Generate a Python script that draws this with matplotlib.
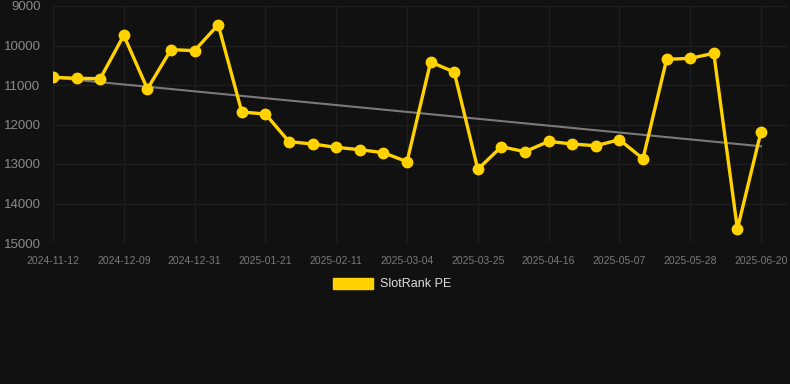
import numpy as np
import matplotlib
matplotlib.use("Agg")
import matplotlib.pyplot as plt
from matplotlib.patches import Patch

plt.rcParams['font.family'] = ['Liberation Sans', 'DejaVu Sans']

# dates of each sample (only every third one is shown as a tick label)
dates = ["2024-11-12", "2024-11-21", "2024-11-30", "2024-12-09", "2024-12-16",
         "2024-12-23", "2024-12-31", "2025-01-07", "2025-01-14", "2025-01-21",
         "2025-01-28", "2025-02-04", "2025-02-11", "2025-02-18", "2025-02-25",
         "2025-03-04", "2025-03-11", "2025-03-18", "2025-03-25", "2025-04-01",
         "2025-04-08", "2025-04-16", "2025-04-23", "2025-04-30", "2025-05-07",
         "2025-05-14", "2025-05-21", "2025-05-28", "2025-06-04", "2025-06-12",
         "2025-06-20"]
rank = [10805, 10830, 10840, 9742, 11100, 10105, 10130, 9473, 11684, 11734,
        12435, 12494, 12578, 12638, 12714, 12942, 10418, 10671, 13134, 12562,
        12689, 12427, 12494, 12537, 12385, 12866, 10350, 10325, 10198, 14646,
        12182]
yticks = [9000, 10000, 11000, 12000, 13000, 14000, 15000]

bg = '#111111'
gold = '#FFD200'

fig = plt.figure(figsize=(7.9, 3.84), dpi=100, facecolor=bg)
ax = fig.add_axes([53/790, 1 - 243/384, (788 - 53)/790, (243 - 6)/384])
ax.set_facecolor(bg)

x = np.arange(len(rank))
# trend line (least squares fit of the series)
k, b = np.polyfit(x, rank, 1)
ax.plot(x, k*x + b, color='#7a7a7a', lw=1.5, zorder=2)
ax.plot(x, rank, color=gold, lw=2.4, marker='o', markersize=7.5, zorder=3)

ax.set_ylim(15000, 9000)
ax.set_xlim(0, len(rank) - 1 + 27/23.6)
ax.set_yticks(yticks)
ax.set_yticklabels([str(v) for v in yticks])
ax.set_xticks(x[::3])
ax.set_xticklabels(dates[::3])

ax.grid(True, color='#1d1d1d', lw=1)
for s in ax.spines.values():
    s.set_visible(False)
ax.tick_params(axis='y', length=0, pad=9, labelsize=9.5, labelcolor='#8a8a8a')
ax.tick_params(axis='x', length=0, pad=9, labelsize=7.5, labelcolor='#7a7a7a')

handle = Patch(facecolor=gold, edgecolor=gold)
fig.legend([handle], ['SlotRank PE'], loc='center', bbox_to_anchor=(392/790, 1 - 284/384),
           frameon=False, fontsize=9, labelcolor='#dddddd',
           handlelength=3.2, handleheight=1.0, handletextpad=0.5)

fig.savefig('out.png', dpi=100, facecolor=bg)
